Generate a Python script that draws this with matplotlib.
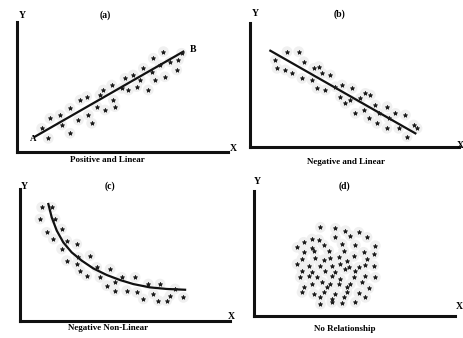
import matplotlib.pyplot as plt

# (a) positive and linear
a_x = [1.17, 1.56, 1.48, 2.04, 2.12, 2.51, 2.51, 2.91, 2.99, 3.30, 3.38, 3.54,
       3.78, 3.93, 4.09, 4.17, 4.49, 4.57, 4.64, 4.96, 5.12, 5.28, 5.51, 5.67,
       5.83, 5.99, 6.22, 6.38, 6.46, 6.54, 6.78, 6.94, 7.01, 7.25, 7.57, 7.65, 7.80]
a_y = [1.82, 2.59, 1.05, 2.85, 2.08, 3.36, 1.44, 2.46, 4.00, 4.26, 2.85, 2.21,
       3.49, 4.38, 4.77, 3.23, 5.15, 4.00, 3.49, 4.90, 5.67, 4.77, 5.92, 5.03,
       5.54, 6.44, 4.77, 6.18, 7.21, 5.54, 6.69, 7.72, 5.79, 6.95, 6.31, 7.08, 7.59]
a_line_x = [0.85, 7.88]
a_line_y = [1.18, 7.72]

# (b) negative and linear
b_x = [1.20, 1.76, 2.32, 1.28, 1.68, 2.00, 2.56, 2.48, 3.04, 3.28, 2.96, 3.44,
       3.20, 3.60, 3.84, 4.08, 4.32, 4.40, 4.56, 4.80, 4.88, 5.04, 5.28, 5.44,
       5.52, 5.68, 5.76, 6.00, 6.08, 6.16, 6.56, 6.56, 6.64, 6.96, 7.12, 7.44,
       7.52, 7.84, 8.00]
b_y = [7.03, 7.70, 7.70, 6.35, 6.22, 5.95, 6.89, 5.54, 6.35, 6.49, 5.41, 5.95,
       4.73, 4.59, 5.81, 4.86, 4.05, 5.00, 3.51, 3.78, 4.73, 2.70, 3.92, 2.97,
       4.32, 2.30, 4.19, 3.38, 1.89, 2.70, 3.24, 1.49, 2.30, 2.70, 1.49, 2.57,
       0.81, 1.76, 1.49]
b_line_x = [0.96, 7.92]
b_line_y = [7.78, 1.08]

# (c) negative non-linear
c_x = [1.03, 1.51, 0.95, 1.67, 1.98, 1.27, 1.59, 2.22, 2.70, 1.98, 2.22, 2.78,
       3.33, 2.70, 2.86, 3.65, 3.17, 3.81, 4.29, 4.13, 4.52, 4.84, 4.52, 5.08,
       5.48, 5.56, 5.87, 6.11, 6.35, 6.67, 6.59, 7.14, 7.38, 7.78, 6.98]
c_y = [8.61, 8.61, 7.72, 7.72, 6.96, 6.71, 6.20, 6.08, 5.82, 5.44, 4.56, 4.81,
       4.94, 4.30, 3.80, 4.05, 3.42, 3.29, 3.92, 2.66, 2.91, 3.29, 2.28, 2.28,
       3.29, 2.15, 1.65, 2.78, 2.03, 2.78, 1.52, 1.90, 2.41, 1.77, 1.52]
c_curve_x = [1.35, 1.51, 1.75, 2.06, 2.46, 2.94, 3.49, 4.13, 4.76, 5.40, 6.19, 6.98, 7.86]
c_curve_y = [8.86, 7.85, 6.84, 5.95, 5.19, 4.56, 3.97, 3.47, 3.09, 2.78, 2.53, 2.41, 2.35]

# (d) no relationship
d_x = [3.31, 4.05, 4.55, 5.21, 4.79, 5.62, 2.89, 3.22, 4.05,
       2.15, 2.48, 2.89, 3.47, 4.38, 5.04, 6.03,
       2.48, 2.98, 3.72, 4.46, 5.45, 5.95,
       2.40, 3.06, 3.47, 3.80, 4.21, 4.63, 4.96, 5.62,
       2.15, 2.73, 3.31, 3.88, 4.30, 4.71, 5.21, 5.54, 5.95,
       2.40, 2.89, 3.55, 4.05, 4.55, 5.04,
       2.31, 2.73, 3.14, 3.88, 4.30, 4.96, 5.54, 6.03,
       2.89, 3.39, 3.80, 4.21, 4.79, 5.37,
       2.48, 3.64, 4.63, 5.70,
       2.40, 2.98, 3.47, 4.05, 4.63, 5.21,
       3.31, 3.88, 4.46, 5.54,
       3.31, 3.88, 4.38, 5.04]
d_y = [7.07, 6.99, 6.80, 6.67, 6.40, 6.27, 6.13, 6.08, 6.27,
       5.47, 5.87, 5.39, 5.65, 5.73, 5.65, 5.60,
       5.07, 5.20, 5.20, 5.20, 5.07, 4.93,
       4.53, 4.59, 4.48, 4.59, 4.67, 4.40, 4.75, 4.53,
       4.13, 4.00, 4.00, 4.00, 4.13, 3.87, 3.87, 4.05, 4.00,
       3.60, 3.47, 3.60, 3.47, 3.73, 3.60,
       3.07, 3.20, 3.07, 3.20, 2.93, 3.07, 3.20, 3.07,
       2.53, 2.67, 2.53, 2.53, 2.53, 2.67,
       2.27, 2.27, 2.27, 2.19,
       1.87, 1.73, 1.87, 1.73, 1.87, 1.81,
       1.47, 1.33, 1.47, 1.47,
       0.93, 1.07, 1.01, 1.07]

titles = ["(a)", "(b)", "(c)", "(d)"]
xlabels = ["Positive and Linear", "Negative and Linear",
           "Negative Non-Linear", "No Relationship"]

plt.rcParams['font.family'] = ['Liberation Serif', 'DejaVu Serif']

fig = plt.figure(figsize=(4.63, 3.38), dpi=100)

# panel placement and label offsets (axes fractions)
boxes = [[0.0367, 0.5503, 0.4557, 0.3846],
         [0.5407, 0.5660, 0.4500, 0.3650],
         [0.0432, 0.0512, 0.4536, 0.3896],
         [0.5479, 0.0660, 0.4356, 0.3698]]
title_pos = [(0.42, 1.05), (0.43, 1.07), (0.43, 1.02), (0.45, 1.04)]
ylab_pos = [(0.025, 1.05), (0.023, 1.08), (0.02, 1.02), (0.016, 1.07)]
xlab_pos = [(0.43, -0.065), (0.46, -0.125), (0.42, -0.055), (0.45, -0.107)]
xmark_pos = [(1.025, 0.03), (1.01, 0.01), (1.005, 0.03), (1.02, 0.07)]

data = [(a_x, a_y), (b_x, b_y), (c_x, c_y), (d_x, d_y)]
axes = []
for i in range(4):
    ax = fig.add_axes(boxes[i])
    ax.set_xlim(0, 10)
    ax.set_ylim(0, 10)
    for s in ['top', 'right']:
        ax.spines[s].set_visible(False)
    for s in ['left', 'bottom']:
        ax.spines[s].set_linewidth(2.2)
        ax.spines[s].set_color('#111111')
    ax.set_xticks([])
    ax.set_yticks([])
    ax.patch.set_alpha(0)

    px, py = data[i]
    # grey speckle halo around dots
    ax.scatter(px, py, s=60, color='#f0f0f0', edgecolors='none', zorder=1)
    ax.scatter(px, py, s=9, color='#1a1a1a', marker='*', linewidths=0.6, zorder=3)

    ax.text(*title_pos[i], titles[i], transform=ax.transAxes, ha='center',
            va='center', fontsize=7, fontweight='bold')
    ax.text(*ylab_pos[i], "Y", transform=ax.transAxes, ha='center',
            va='center', fontsize=7, fontweight='bold')
    ax.text(*xmark_pos[i], "X", transform=ax.transAxes, ha='center',
            va='center', fontsize=7, fontweight='bold', clip_on=False)
    ax.text(*xlab_pos[i], xlabels[i], transform=ax.transAxes, ha='center',
            va='center', fontsize=6.5, fontweight='bold')
    axes.append(ax)

axes[0].plot(a_line_x, a_line_y, color='#111111', lw=1.6, zorder=2)
axes[0].text(a_line_x[0] - 0.1, a_line_y[0] - 0.15, "A", fontsize=6.5,
             fontweight='bold', ha='center', va='center')
axes[0].text(a_line_x[1] + 0.45, a_line_y[1] + 0.15, "B", fontsize=7,
             fontweight='bold', ha='center', va='center')
axes[1].plot(b_line_x, b_line_y, color='#111111', lw=1.6, zorder=2)
axes[2].plot(c_curve_x, c_curve_y, color='#111111', lw=1.6, zorder=2)

fig.savefig("out.png", dpi=100)
